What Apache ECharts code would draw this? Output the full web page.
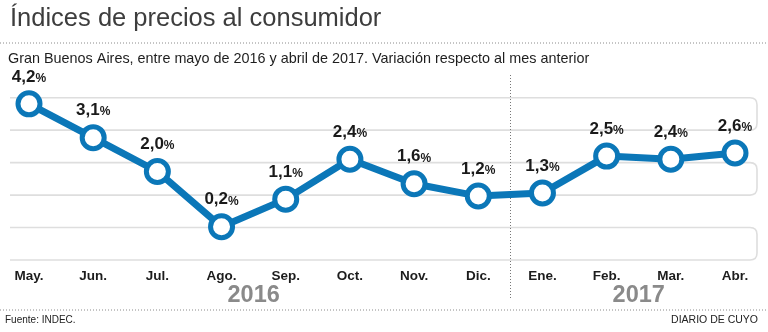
<!DOCTYPE html>
<html>
<head>
<meta charset="utf-8">
<style>
  html, body { margin: 0; padding: 0; background: #fff; }
  #chart { width: 768px; height: 332px; }
</style>
<script src="https://cdn.jsdelivr.net/npm/echarts@6/dist/echarts.min.js"></script>
</head>
<body>
<div id="chart"></div>
<script>
// Monthly CPI variation, Gran Buenos Aires (May 2016 - Apr 2017)
const months = ['May.', 'Jun.', 'Jul.', 'Ago.', 'Sep.', 'Oct.', 'Nov.', 'Dic.', 'Ene.', 'Feb.', 'Mar.', 'Abr.'];
const variation = [4.2, 3.1, 2.0, 0.2, 1.1, 2.4, 1.6, 1.2, 1.3, 2.5, 2.4, 2.6];
// Year groups: [label, first month index, last month index]
const years = [['2016', 0, 7], ['2017', 8, 11]];
// Decorative background bands on a 0..5 level scale: [bottom, top]
const bands = [[4, 5], [2, 3], [0, 1]];

const BLUE = '#0b77b8';
const FONT = '"Liberation Sans", Arial, Helvetica, sans-serif';

const chart = echarts.init(document.getElementById('chart'), null, { renderer: 'canvas' });

const fmt = v => v.toFixed(1).replace('.', ',');

const option = {
  animation: false,
  backgroundColor: '#fff',
  grid: [
    { left: 29, right: 33, top: 97.7, bottom: 72 },
    { left: 10, right: 11, top: 97.7, bottom: 72 }
  ],
  xAxis: [
    {
      type: 'category', gridIndex: 0, data: months, boundaryGap: false,
      axisLine: { show: false }, axisTick: { show: false }, splitLine: { show: false },
      axisLabel: { margin: 9, color: '#1c1c1c', fontFamily: FONT, fontWeight: 'bold', fontSize: 13.5 }
    },
    { type: 'value', gridIndex: 1, min: 0, max: 1, show: false }
  ],
  yAxis: [
    { type: 'value', gridIndex: 0, min: -0.88, max: 4.40, show: false },
    { type: 'value', gridIndex: 1, min: 0, max: 5, show: false }
  ],
  series: [
    {
      type: 'custom', xAxisIndex: 1, yAxisIndex: 1, z: 1, silent: true,
      data: bands,
      renderItem: function (params, api) {
        const pTop = api.coord([0, api.value(1)]);
        const pBot = api.coord([1, api.value(0)]);
        const x0 = pTop[0], y0 = pTop[1], x1 = pBot[0], y1 = pBot[1];
        const r = 7;
        const d = 'M' + x0 + ' ' + y0 + 'L' + (x1 - r) + ' ' + y0 +
          'Q' + x1 + ' ' + y0 + ' ' + x1 + ' ' + (y0 + r) +
          'L' + x1 + ' ' + (y1 - r) +
          'Q' + x1 + ' ' + y1 + ' ' + (x1 - r) + ' ' + y1 +
          'L' + x0 + ' ' + y1;
        return {
          type: 'path',
          shape: { pathData: d },
          style: { fill: null, stroke: '#dedede', lineWidth: 1.6 }
        };
      }
    },
    {
      type: 'line', xAxisIndex: 0, yAxisIndex: 0, z: 5,
      data: variation,
      symbol: 'circle', symbolSize: 22,
      lineStyle: { color: BLUE, width: 7 },
      itemStyle: { color: '#fff', borderColor: BLUE, borderWidth: 5 },
      label: {
        show: true, position: 'top', distance: 5,
        formatter: p => '{v|' + fmt(p.value) + '}{p|%}',
        rich: {
          v: { fontFamily: FONT, fontWeight: 'bold', fontSize: 17, color: '#1a1a1a' },
          p: { fontFamily: FONT, fontWeight: 'bold', fontSize: 12, color: '#1a1a1a', padding: [3, 0, 0, 0] }
        }
      }
    }
  ],
  graphic: [
    {
      type: 'text', left: 10, top: 6,
      style: { text: 'Índices de precios al consumidor', fontFamily: FONT, fontSize: 25.5, fill: '#3d3d3d' }
    },
    {
      type: 'line', shape: { x1: 0, y1: 43, x2: 768, y2: 43 },
      style: { stroke: '#8a8a8a', lineWidth: 1, lineDash: [1, 2] }
    },
    {
      type: 'text', left: 8, top: 52,
      style: {
        text: 'Gran Buenos Aires, entre mayo de 2016 y abril de 2017. Variación respecto al mes anterior',
        fontFamily: FONT, fontSize: 14.4, fill: '#1e1e1e'
      }
    },
    {
      type: 'line', shape: { x1: 0, y1: 310, x2: 768, y2: 310 },
      style: { stroke: '#8a8a8a', lineWidth: 1, lineDash: [1, 2] }
    },
    {
      type: 'text', left: 5, top: 315,
      style: { text: 'Fuente: INDEC.', fontFamily: FONT, fontSize: 10, fill: '#222' }
    },
    {
      type: 'text', right: 10, top: 315,
      style: { text: 'DIARIO DE CUYO', fontFamily: FONT, fontSize: 10.5, fill: '#222' }
    }
  ]
};

chart.setOption(option);

// Year captions and the year separator, placed from the category scale
const px = i => chart.convertToPixel({ xAxisIndex: 0 }, i);
const extra = [];
years.forEach(([label, a, b]) => {
  extra.push({
    type: 'text', x: (px(a) + px(b)) / 2, y: 296,
    style: {
      text: label, fontFamily: FONT, fontWeight: 'bold', fontSize: 23.5,
      fill: '#8a8a8a', align: 'center', verticalAlign: 'middle'
    }
  });
});
for (let k = 1; k < years.length; k++) {
  const sx = Math.round((px(years[k - 1][2]) + px(years[k][1])) / 2) + 0.5;
  extra.push({
    type: 'line', shape: { x1: sx, y1: 75, x2: sx, y2: 300 }, z: 2,
    style: { stroke: '#777', lineWidth: 1, lineDash: [1, 2] }
  });
}
chart.setOption({ graphic: option.graphic.concat(extra) });
</script>
</body>
</html>
